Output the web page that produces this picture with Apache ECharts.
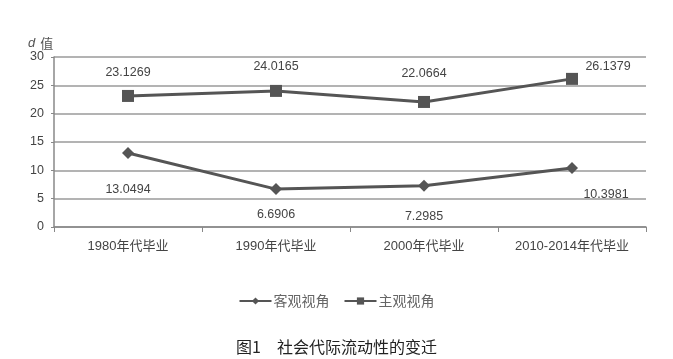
<!DOCTYPE html>
<html><head><meta charset="utf-8">
<script src="https://cdn.jsdelivr.net/npm/echarts@6/dist/echarts.min.js"></script>
<style>html,body{margin:0;padding:0;background:#fff}#c{width:673px;height:359px}</style>
</head><body><div id="c"></div>
<script>
const categories = ['1980年代毕业', '1990年代毕业', '2000年代毕业', '2010-2014年代毕业'];
const objective = [13.0494, 6.6906, 7.2985, 10.3981];
const subjective = [23.1269, 24.0165, 22.0664, 26.1379];
const yTicks = [0, 5, 10, 15, 20, 25, 30];
const seriesNames = ['客观视角', '主观视角'];

const objLabelOffsets = [[0, 36], [0, 25], [0, 31], [34, 26]];
const subjLabelOffsets = [[0, -23], [0, -24], [0, -28], [36, -12]];

function buildData(vals, offsets) {
  return vals.map((v, i) => ({
    value: v,
    label: { offset: offsets[i] }
  }));
}

const chart = echarts.init(document.getElementById('c'));
const font = '"Liberation Sans", "Noto Sans CJK SC", sans-serif';
chart.setOption({
  animation: false,
  textStyle: { fontFamily: font },
  grid: { left: 54, right: 27, top: 57, bottom: 132 },
  title: [
    { text: '图1　社会代际流动性的变迁', left: 'center', top: 334,
      textStyle: { fontSize: 16, fontWeight: 'normal', color: '#222', fontFamily: '"Noto Sans CJK SC", serif' } },
    { text: '{d|d} {v|值}', left: 23, top: 29,
      textStyle: { fontWeight: 'normal', rich: {
        d: { fontStyle: 'italic', fontWeight: 'normal', fontSize: 13, color: '#555', fontFamily: '"Liberation Sans", sans-serif' },
        v: { fontSize: 13, fontWeight: 'normal', color: '#555', fontFamily: '"Noto Sans CJK SC"' } } } }
  ],
  legend: {
    data: seriesNames, top: 289, left: 'center', itemWidth: 32, itemHeight: 9, itemGap: 14,
    textStyle: { fontSize: 14, color: '#666', fontFamily: '"Noto Sans CJK SC"', padding: [0, 0, 0, -3] }
  },
  xAxis: {
    type: 'category', data: categories, boundaryGap: true,
    axisLine: { lineStyle: { color: '#888', width: 1.5 } },
    axisTick: { show: true, length: 5, lineStyle: { color: '#888' } },
    axisLabel: { color: '#444', fontSize: 13, margin: 13, interval: 0, hideOverlap: false }
  },
  yAxis: {
    type: 'value', min: yTicks[0], max: yTicks[yTicks.length - 1], interval: 5,
    axisLine: { show: true, lineStyle: { color: '#888', width: 1.5 } },
    axisTick: { show: true, length: 3, lineStyle: { color: '#888' } },
    axisLabel: { color: '#444', fontSize: 12.5, margin: 10 },
    splitLine: { lineStyle: { color: '#9a9a9a', width: 1.5 } }
  },
  series: [
    { name: seriesNames[0], type: 'line', data: buildData(objective, objLabelOffsets),
      symbol: 'diamond', symbolSize: 12,
      lineStyle: { color: '#555', width: 3 }, itemStyle: { color: '#555' },
      label: { show: true, position: 'inside', color: '#444', fontSize: 12.5, formatter: p => p.value.toFixed(4) } },
    { name: seriesNames[1], type: 'line', data: buildData(subjective, subjLabelOffsets),
      symbol: 'rect', symbolSize: 12,
      lineStyle: { color: '#555', width: 3 }, itemStyle: { color: '#555' },
      label: { show: true, position: 'inside', color: '#444', fontSize: 12.5, formatter: p => p.value.toFixed(4) } }
  ]
});
</script></body></html>
